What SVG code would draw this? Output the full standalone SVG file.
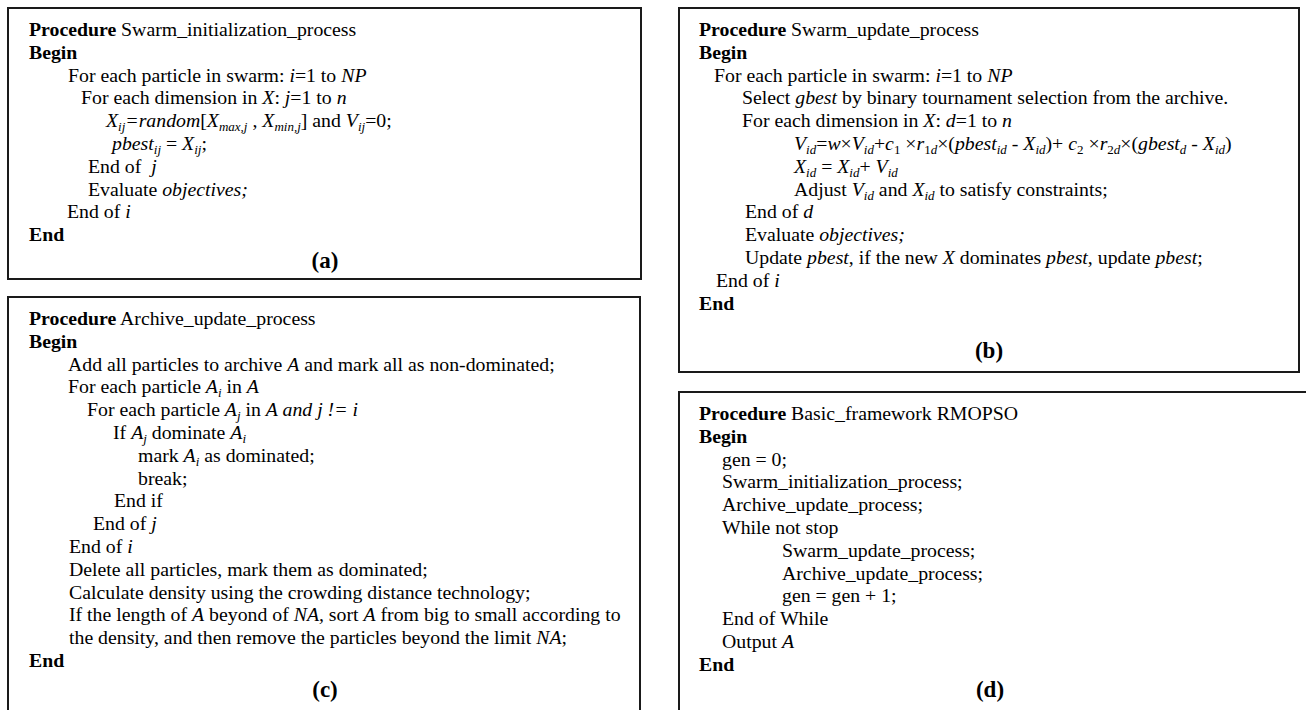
<svg xmlns="http://www.w3.org/2000/svg" width="1306" height="710" viewBox="0 0 1306 710">
<style>
.box{fill:none;stroke:#1a1a1a;stroke-width:2}
text{font-family:"Liberation Serif","Times New Roman",serif;font-size:19.8px;fill:#000}
.b{font-weight:bold}
.i{font-style:italic}
.s{font-size:13px}
.lbl{font-weight:bold;font-size:23px;text-anchor:middle}
</style>
<rect width="1306" height="710" fill="#fff"/>

<g id="node-a">
<rect class="box" x="8" y="8" width="633" height="271"/>
<text x="29" y="36"><tspan class="b">Procedure</tspan> Swarm_initialization_process</text>
<text x="29" y="58.8" class="b">Begin</text>
<text x="68" y="81.6">For each particle in swarm: <tspan class="i">i</tspan>=1 to <tspan class="i">NP</tspan></text>
<text x="81" y="104.4">For each dimension in <tspan class="i">X</tspan>: <tspan class="i">j</tspan>=1 to <tspan class="i">n</tspan></text>
<text x="106" y="127.2"><tspan class="i">X</tspan><tspan class="s i" dy="4">ij</tspan><tspan class="i" dy="-4">=random</tspan>[<tspan class="i">X</tspan><tspan class="s i" dy="4">max,j</tspan><tspan dy="-4"> , </tspan><tspan class="i">X</tspan><tspan class="s i" dy="4">min,j</tspan><tspan dy="-4">] and </tspan><tspan class="i">V</tspan><tspan class="s i" dy="4">ij</tspan><tspan dy="-4">=0;</tspan></text>
<text x="112" y="150"><tspan class="i">pbest</tspan><tspan class="s i" dy="4">ij</tspan><tspan dy="-4"> = </tspan><tspan class="i">X</tspan><tspan class="s i" dy="4">ij</tspan><tspan dy="-4">;</tspan></text>
<text x="88" y="172.8">End of&#160; <tspan class="i">j</tspan></text>
<text x="88" y="195.6">Evaluate <tspan class="i">objectives;</tspan></text>
<text x="67" y="218.4">End of <tspan class="i">i</tspan></text>
<text x="29" y="241.2" class="b">End</text>
<text x="325" y="268" class="lbl">(a)</text>
</g>

<g id="node-b">
<rect class="box" x="679" y="8" width="620" height="364"/>
<text x="699" y="36"><tspan class="b">Procedure</tspan> Swarm_update_process</text>
<text x="699" y="58.8" class="b">Begin</text>
<text x="714" y="81.6">For each particle in swarm: <tspan class="i">i</tspan>=1 to <tspan class="i">NP</tspan></text>
<text x="742" y="104.4">Select <tspan class="i">gbest</tspan> by binary tournament selection from the archive.</text>
<text x="742" y="127.2">For each dimension in <tspan class="i">X</tspan>: <tspan class="i">d</tspan>=1 to <tspan class="i">n</tspan></text>
<text x="794" y="150"><tspan class="i">V</tspan><tspan class="s i" dy="4">id</tspan><tspan dy="-4">=</tspan><tspan class="i">w</tspan>×<tspan class="i">V</tspan><tspan class="s i" dy="4">id</tspan><tspan dy="-4">+</tspan><tspan class="i">c</tspan><tspan class="s" dy="4">1</tspan><tspan dy="-4"> ×</tspan><tspan class="i">r</tspan><tspan class="s" dy="4">1<tspan class="i">d</tspan></tspan><tspan dy="-4">×(</tspan><tspan class="i">pbest</tspan><tspan class="s i" dy="4">id</tspan><tspan class="i" dy="-4"> - X</tspan><tspan class="s i" dy="4">id</tspan><tspan dy="-4">)+ </tspan><tspan class="i">c</tspan><tspan class="s" dy="4">2</tspan><tspan dy="-4"> ×</tspan><tspan class="i">r</tspan><tspan class="s" dy="4">2<tspan class="i">d</tspan></tspan><tspan dy="-4">×(</tspan><tspan class="i">gbest</tspan><tspan class="s i" dy="4">d</tspan><tspan class="i" dy="-4"> - X</tspan><tspan class="s i" dy="4">id</tspan><tspan dy="-4">)</tspan></text>
<text x="794" y="172.8"><tspan class="i">X</tspan><tspan class="s i" dy="4">id</tspan><tspan dy="-4"> = </tspan><tspan class="i">X</tspan><tspan class="s i" dy="4">id</tspan><tspan dy="-4">+ </tspan><tspan class="i">V</tspan><tspan class="s i" dy="4">id</tspan></text>
<text x="794" y="195.6">Adjust <tspan class="i">V</tspan><tspan class="s i" dy="4">id</tspan><tspan dy="-4"> and </tspan><tspan class="i">X</tspan><tspan class="s i" dy="4">id</tspan><tspan dy="-4"> to satisfy constraints;</tspan></text>
<text x="745" y="218.4">End of <tspan class="i">d</tspan></text>
<text x="745" y="241.2">Evaluate <tspan class="i">objectives;</tspan></text>
<text x="745" y="264">Update <tspan class="i">pbest</tspan>, if the new <tspan class="i">X</tspan> dominates <tspan class="i">pbest</tspan>, update <tspan class="i">pbest</tspan>;</text>
<text x="716" y="286.8">End of <tspan class="i">i</tspan></text>
<text x="699" y="309.6" class="b">End</text>
<text x="989" y="358" class="lbl">(b)</text>
</g>

<g id="node-c">
<rect class="box" x="8" y="297" width="632" height="430"/>
<text x="29" y="325"><tspan class="b">Procedure</tspan> Archive_update_process</text>
<text x="29" y="347.8" class="b">Begin</text>
<text x="68" y="370.6">Add all particles to archive <tspan class="i">A</tspan> and mark all as non-dominated;</text>
<text x="68" y="393.4">For each particle <tspan class="i">A</tspan><tspan class="s i" dy="4">i</tspan><tspan dy="-4"> in </tspan><tspan class="i">A</tspan></text>
<text x="87" y="416.2">For each particle <tspan class="i">A</tspan><tspan class="s i" dy="4">j</tspan><tspan dy="-4"> in </tspan><tspan class="i">A and j != i</tspan></text>
<text x="113" y="439">If <tspan class="i">A</tspan><tspan class="s i" dy="4">j</tspan><tspan dy="-4"> dominate </tspan><tspan class="i">A</tspan><tspan class="s i" dy="4">i</tspan></text>
<text x="138" y="461.8">mark <tspan class="i">A</tspan><tspan class="s i" dy="4">i</tspan><tspan dy="-4"> as dominated;</tspan></text>
<text x="138" y="484.6">break;</text>
<text x="114" y="507.4">End if</text>
<text x="93" y="530.2">End of <tspan class="i">j</tspan></text>
<text x="69" y="553">End of <tspan class="i">i</tspan></text>
<text x="69" y="575.8">Delete all particles, mark them as dominated;</text>
<text x="69" y="598.6">Calculate density using the crowding distance technology;</text>
<text x="69" y="621.4">If the length of <tspan class="i">A</tspan> beyond of <tspan class="i">NA,</tspan> sort <tspan class="i">A</tspan> from big to small according to</text>
<text x="69" y="644.2">the density, and then remove the particles beyond the limit <tspan class="i">NA</tspan>;</text>
<text x="29" y="667" class="b">End</text>
<text x="325" y="697" class="lbl">(c)</text>
</g>

<g id="node-d">
<rect class="box" x="679" y="392" width="700" height="400"/>
<text x="699" y="420"><tspan class="b">Procedure</tspan> Basic_framework RMOPSO</text>
<text x="699" y="442.8" class="b">Begin</text>
<text x="722" y="465.6">gen = 0;</text>
<text x="722" y="488.4">Swarm_initialization_process;</text>
<text x="722" y="511.2">Archive_update_process;</text>
<text x="722" y="534">While not stop</text>
<text x="782" y="556.8">Swarm_update_process;</text>
<text x="782" y="579.6">Archive_update_process;</text>
<text x="782" y="602.4">gen = gen + 1;</text>
<text x="722" y="625.2">End of While</text>
<text x="722" y="648">Output <tspan class="i">A</tspan></text>
<text x="699" y="670.8" class="b">End</text>
<text x="990" y="697" class="lbl">(d)</text>
</g>

<g id="connectors"></g>
</svg>
